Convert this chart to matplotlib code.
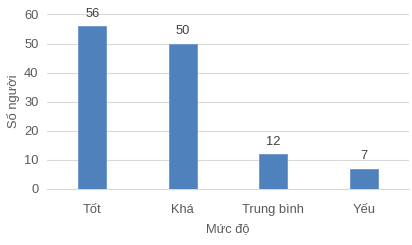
import matplotlib
matplotlib.use('Agg')
from matplotlib import pyplot as plt

categories = ['Tốt', 'Khá', 'Trung bình', 'Yếu']
values = [56, 50, 12, 7]
yticks = [0, 10, 20, 30, 40, 50, 60]

plt.rcParams['font.family'] = ['Liberation Sans', 'DejaVu Sans']
text_color = '#595959'
fs = 9.3

fig = plt.figure(figsize=(4.12, 2.45), dpi=100)
ax = fig.add_axes([0.114, 0.229, 0.879, 0.712])

x = range(len(categories))
bars = ax.bar(x, values, width=0.31, color='#4F81BD', edgecolor='#6A95CB', linewidth=0.6, zorder=3)
for b, v in zip(bars, values):
    ax.annotate(str(v), (b.get_x() + b.get_width() / 2, v), xytext=(0, 4.5),
                textcoords='offset points', ha='center', va='bottom',
                fontsize=fs, color='#404040', annotation_clip=False)

ax.set_xlim(-0.5, 3.5)
ax.set_ylim(0, 60)
ax.set_yticks(yticks)
ax.set_xticks(list(x))
ax.set_xticklabels(categories)
ax.yaxis.grid(True, color='#D9D9D9', linewidth=0.8, zorder=0)
ax.tick_params(length=0, labelsize=fs, labelcolor=text_color)
ax.tick_params(axis='x', pad=11)
ax.tick_params(axis='y', pad=6)
for s in ['top', 'right', 'left']:
    ax.spines[s].set_visible(False)
ax.spines['bottom'].set_color('#D9D9D9')
ax.spines['bottom'].set_linewidth(0.8)

ax.set_xlabel('Mức độ', fontsize=fs, color=text_color, labelpad=5)
ax.set_ylabel('Số người', fontsize=fs, color=text_color, labelpad=3)

fig.savefig('out.png', dpi=100)
